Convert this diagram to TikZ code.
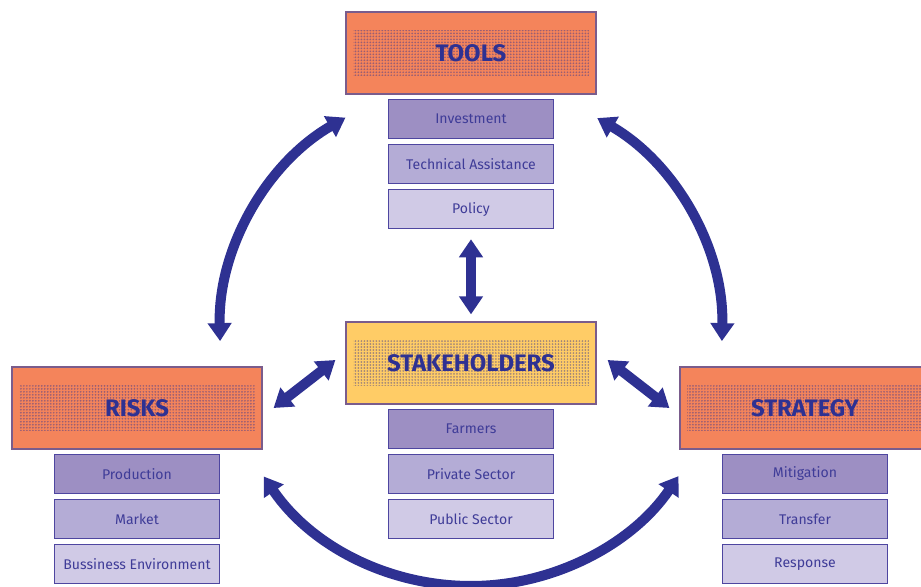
\documentclass[tikz,border=0pt]{standalone}
\usepackage{fontspec}
\setmainfont{Fira Sans}
\usetikzlibrary{positioning,calc,arrows.meta,patterns.meta}

\definecolor{navy}{HTML}{2E3192}
\definecolor{boxorange}{HTML}{F4845B}
\definecolor{boxyellow}{HTML}{FFCC66}
\definecolor{edge}{HTML}{7A5C8C}
\definecolor{subtext}{HTML}{3F3C98}
\definecolor{subdark}{HTML}{9D8FC3}
\definecolor{submid}{HTML}{B4ACD6}
\definecolor{sublight}{HTML}{D0CAE6}
\definecolor{subedge}{HTML}{4E46A0}

\begin{document}
\begin{tikzpicture}[x=0.02cm,y=0.02cm,
	head/.style={draw=edge, line width=0.7pt, minimum width=5cm, minimum height=1.64cm,
		text=navy, font=\fontsize{13.6}{16}\selectfont\bfseries,
		path picture={\fill[pattern={Dots[distance=1.7pt,radius=0.55pt]}, pattern color=navy, fill opacity=0.45]
			([shift={(7,-18)}]path picture bounding box.north west) rectangle ([shift={(-7,18)}]path picture bounding box.south east);}},
	item/.style={draw=subedge, line width=0.7pt, minimum width=3.3cm, minimum height=0.78cm,
		text=subtext, font=\fontsize{8}{9.6}\selectfont},
	dbl/.style={navy, line width=0.2cm, {Triangle[width=0.46cm,length=0.36cm]}-{Triangle[width=0.46cm,length=0.36cm]}}]
	\useasboundingbox (0,0) rectangle (921,586);

	% the four headings
	\node[head, fill=boxorange] (tools) at (471,533) {TOOLS};
	\node[head, fill=boxyellow] (stake) at (471,223) {STAKEHOLDERS};
	\node[head, fill=boxorange] (risks) at (137,178) {RISKS};
	\node[head, fill=boxorange] (strategy) at (805,178) {STRATEGY};

	% lists under each heading
	\node[item, fill=subdark, below=0.08cm of tools] (invest) {Investment};
	\node[item, fill=submid, below=0.1cm of invest] (techassist) {Technical Assistance};
	\node[item, fill=sublight, below=0.1cm of techassist] (policy) {Policy};

	\node[item, fill=subdark, below=0.08cm of stake] (farmers) {Farmers};
	\node[item, fill=submid, below=0.1cm of farmers] (private) {Private Sector};
	\node[item, fill=sublight, below=0.1cm of private] (public) {Public Sector};

	\node[item, fill=subdark, below=0.08cm of risks] (production) {Production};
	\node[item, fill=submid, below=0.1cm of production] (market) {Market};
	\node[item, fill=sublight, below=0.1cm of market] (business) {Bussiness Environment};

	\node[item, fill=subdark, below=0.08cm of strategy] (mitigation) {Mitigation};
	\node[item, fill=submid, below=0.1cm of mitigation] (transfer) {Transfer};
	\node[item, fill=sublight, below=0.1cm of transfer] (response) {Response};

	% straight links to the stakeholders
	\draw[dbl] ([yshift=-0.2cm]policy.south) -- ([yshift=0.14cm]stake.north);
	\draw[dbl] ([xshift=-0.2cm,yshift=0.06cm]stake.west) -- ([xshift=0.22cm]risks.east);
	\draw[dbl] ([xshift=0.22cm,yshift=0.06cm]stake.east) -- ([xshift=-0.2cm]strategy.west);

	% outer ring
	\coordinate (hub) at (471,251);
	\draw[dbl] ($(hub)+(120:251)$) arc[start angle=120, end angle=181.4, radius=251];
	\draw[dbl] ($(hub)+(59.8:251)$) arc[start angle=59.8, end angle=-1.4, radius=251];
	\draw[dbl] ($(hub)+(214.3:251)$) arc[start angle=214.3, end angle=325.8, radius=251];
\end{tikzpicture}
\end{document}
